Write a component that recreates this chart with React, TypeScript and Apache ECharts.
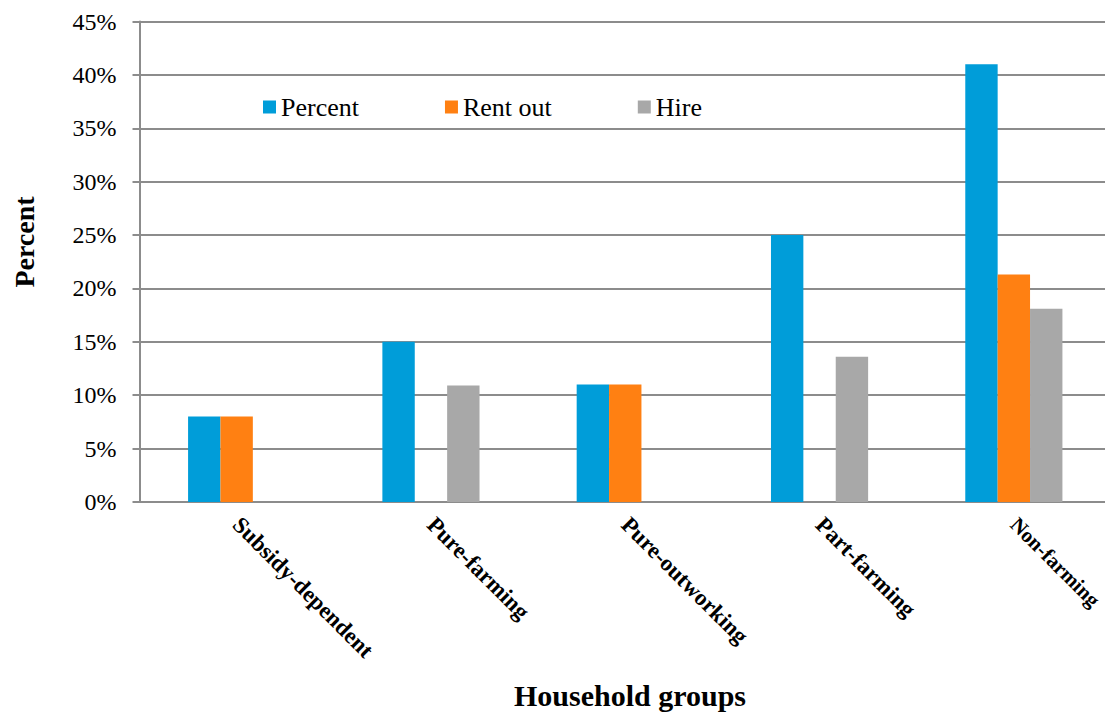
import React, { useEffect, useRef } from "react";
import * as echarts from "echarts";

const categories = [
  "Subsidy-dependent",
  "Pure-farming",
  "Pure-outworking",
  "Part-farming",
  "Non-farming",
];
const percentValues = [8, 15, 11, 25, 41];
const rentOutValues = [8, null, 11, null, 21.3];
const hireValues = [null, 10.9, null, 13.6, 18.1];
const seriesNames = ["Percent", "Rent out", "Hire"];
const colors = ["#009DD9", "#FF8012", "#A8A8A8"];

const FONT = "Liberation Serif";

export default function App() {
  const ref = useRef<HTMLDivElement>(null);
  useEffect(() => {
    if (!ref.current) return;
    const chart = echarts.init(ref.current, undefined, { renderer: "svg" });
    const axisGray = "#8C8C8C";
    const categoryData = categories.map((c, i) =>
      i === categories.length - 1 ? { value: c, textStyle: { fontSize: 21 } } : c
    );
    chart.setOption({
      animation: false,
      backgroundColor: "#ffffff",
      textStyle: { fontFamily: FONT, color: "#000" },
      grid: { left: 139.5, width: 971.5, top: 21.5, height: 480.5, containLabel: false },
      legend: {
        data: seriesNames,
        left: 258,
        top: 89,
        itemWidth: 13,
        itemHeight: 13,
        itemGap: 86,
        icon: "rect",
        textStyle: { fontFamily: FONT, fontSize: 26, color: "#000" },
      },
      xAxis: {
        type: "category",
        data: categoryData,
        axisTick: { show: false },
        axisLine: { lineStyle: { color: axisGray, width: 2 } },
        axisLabel: {
          rotate: -45,
          interval: 0,
          margin: 19,
          fontFamily: FONT,
          fontWeight: "bold",
          fontSize: 23,
          color: "#000",
        },
      },
      yAxis: {
        type: "value",
        min: 0,
        max: 45,
        interval: 5,
        axisLine: { show: true, lineStyle: { color: axisGray, width: 2 } },
        axisTick: { show: true, length: 7, lineStyle: { color: axisGray, width: 2 } },
        splitLine: { lineStyle: { color: axisGray, width: 2 } },
        axisLabel: {
          formatter: "{value}%",
          margin: 23,
          fontFamily: FONT,
          fontSize: 24,
          color: "#000",
        },
      },
      graphic: [
        {
          type: "text",
          x: 24,
          y: 242,
          rotation: Math.PI / 2,
          style: {
            text: "Percent",
            font: `bold 28px "${FONT}"`,
            fill: "#000",
            align: "center",
            verticalAlign: "middle",
          },
        },
        {
          type: "text",
          x: 630,
          y: 695,
          style: {
            text: "Household groups",
            font: `bold 30px "${FONT}"`,
            fill: "#000",
            align: "center",
            verticalAlign: "middle",
          },
        },
      ],
      series: [
        {
          name: seriesNames[0],
          type: "bar",
          data: percentValues,
          itemStyle: { color: colors[0] },
          barGap: "0%",
          barCategoryGap: "50%",
        },
        {
          name: seriesNames[1],
          type: "bar",
          data: rentOutValues,
          itemStyle: { color: colors[1] },
        },
        {
          name: seriesNames[2],
          type: "bar",
          data: hireValues,
          itemStyle: { color: colors[2] },
        },
      ],
    });
    return () => chart.dispose();
  }, []);
  return (
    <div
      style={{
        position: "absolute",
        left: 0,
        top: 0,
        width: 1105,
        height: 712,
        overflow: "hidden",
        background: "#fff",
      }}
    >
      <div ref={ref} style={{ width: 1116, height: 712 }} />
    </div>
  );
}
